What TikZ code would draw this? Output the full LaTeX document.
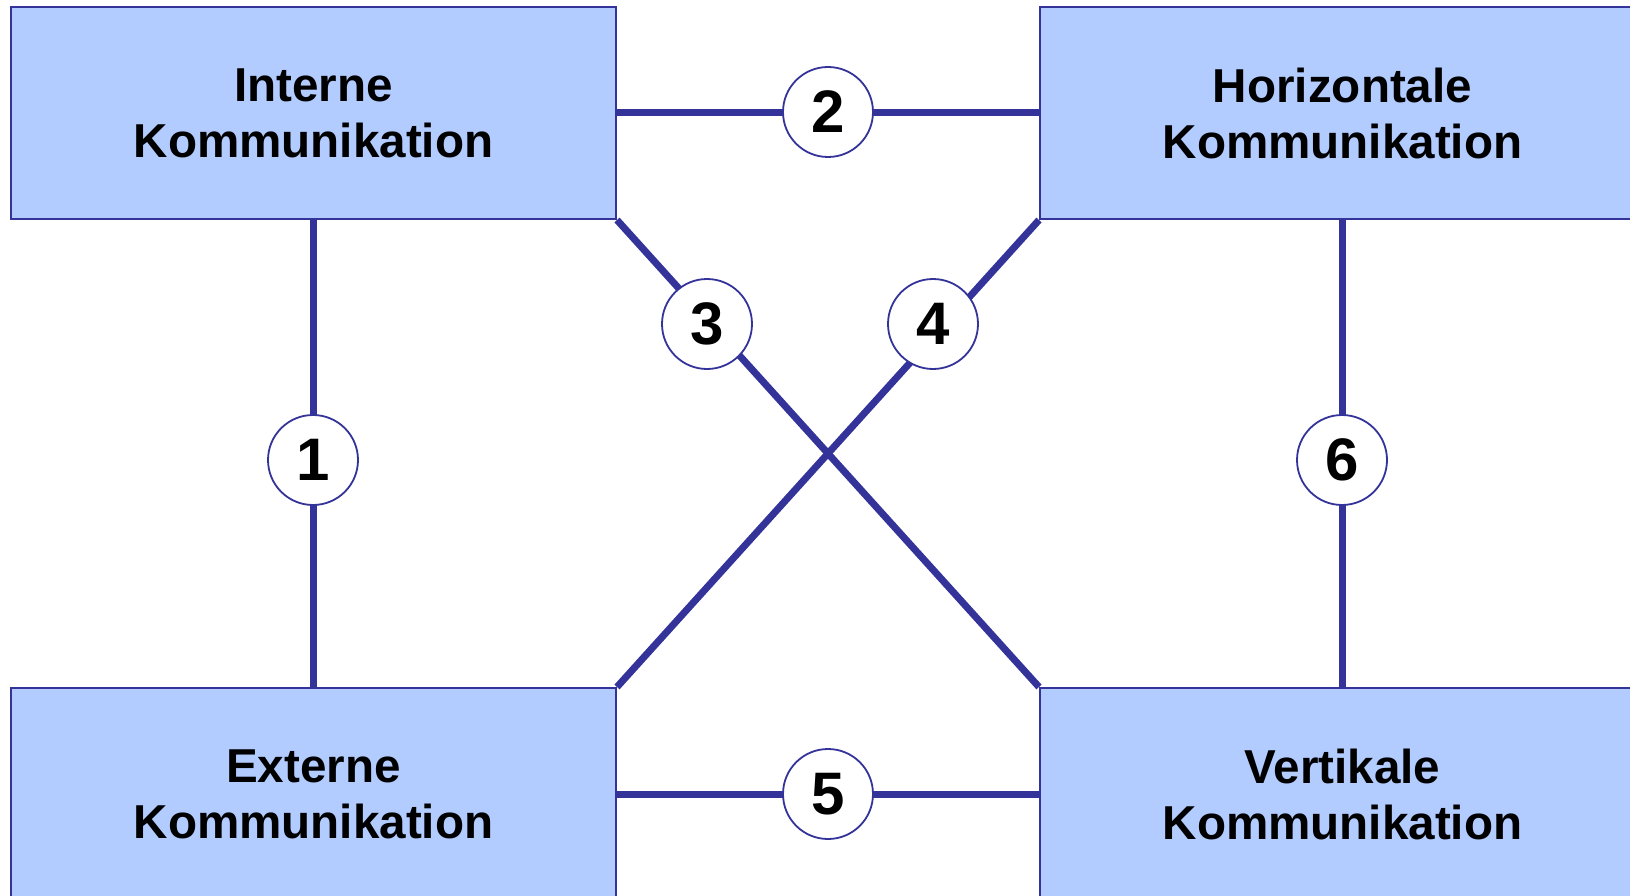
\documentclass[tikz,border=0pt]{standalone}
\usepackage{fontspec}
\setmainfont{Liberation Sans}
\definecolor{bordc}{RGB}{51,51,153}
\definecolor{boxc}{RGB}{179,204,255}
\begin{document}
\begin{tikzpicture}[x=1pt,y=-1pt,
  box/.style={draw=bordc, line width=2pt, fill=boxc, minimum width=605pt, minimum height=212pt,
    inner sep=0pt, align=center, font=\fontsize{47.6}{56}\selectfont\bfseries, anchor=north west},
  num/.style={circle, draw=bordc, line width=1.8pt, fill=white, minimum size=90pt, inner sep=0pt,
    font=\fontsize{60}{60}\selectfont\bfseries},
  conn/.style={draw=bordc, line width=7pt}]
\useasboundingbox (0,0) rectangle (1630,896);
\clip (0,0) rectangle (1630,896);
% box positions (drawn later)
\path (10,6) node[box, draw=none, fill=none] (tl) {};
\path (1039,6) node[box, draw=none, fill=none] (tr) {};
\path (10,687) node[box, draw=none, fill=none] (bl) {};
\path (1039,687) node[box, draw=none, fill=none] (br) {};
% connectors
\draw[conn] (tl.south) -- (bl.north);
\draw[conn] (tr.south) -- (br.north);
\draw[conn] (tl.east) -- (tr.west);
\draw[conn] (bl.east) -- (br.west);
\draw[conn] (tl.south east) -- (br.north west);
\draw[conn] (tr.south west) -- (bl.north east);
% boxes
\node[box] (tlb) at (10,6) {Interne\\Kommunikation};
\node[box] (trb) at (1039,6) {Horizontale\\Kommunikation};
\node[box] (blb) at (10,687) {Externe\\Kommunikation};
\node[box] (brb) at (1039,687) {Vertikale\\Kommunikation};
% number circles
\node[num] (c1) at (313,460) {1};
\node[num] (c2) at (828,112) {2};
\node[num] (c3) at (707,324) {3};
\node[num] (c4) at (933,324) {4};
\node[num] (c5) at (828,794) {5};
\node[num] (c6) at (1342,460) {6};
\end{tikzpicture}
\end{document}
